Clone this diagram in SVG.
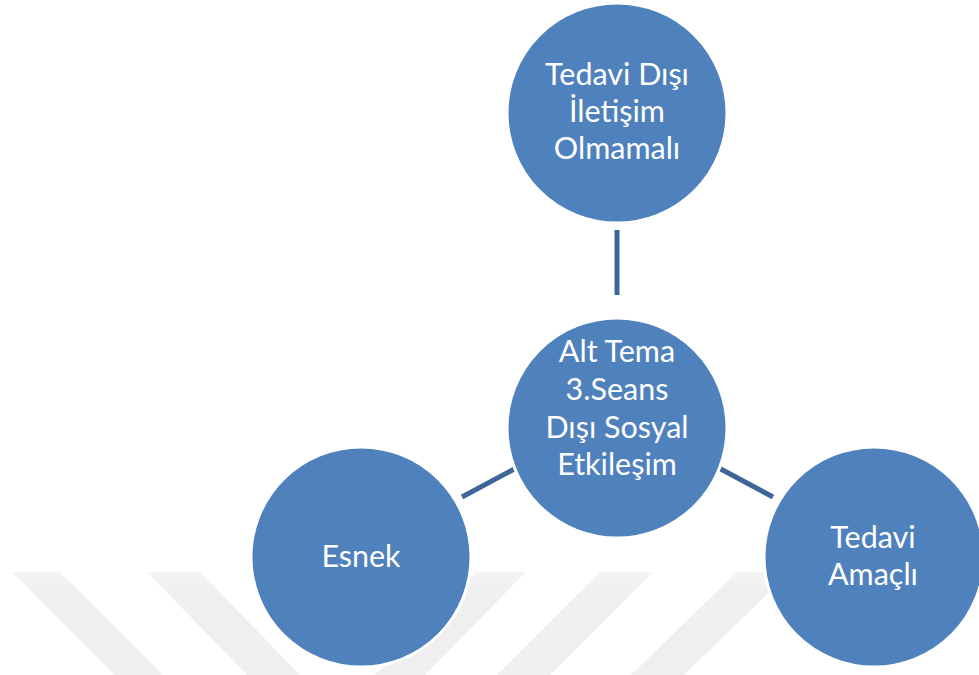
<svg xmlns="http://www.w3.org/2000/svg" width="979" height="675" viewBox="0 0 979 675">
  <defs>
    <linearGradient id="bandFade" x1="0" y1="572" x2="0" y2="675" gradientUnits="userSpaceOnUse">
      <stop offset="0" stop-color="#F3F3F3"/>
      <stop offset="0.25" stop-color="#EFEFEF"/>
      <stop offset="1" stop-color="#EFEFEF"/>
    </linearGradient>
  </defs>
  <style>
    .band { fill: url(#bandFade); }
    .node circle { fill: #4F81BD; stroke: #FFFFFF; stroke-width: 3; }
    .node text { fill: #FFFFFF; font-family: Lato, "Open Sans", "Liberation Sans", sans-serif; font-size: 30.5px; text-anchor: middle; }
    .link { stroke: #3E6597; stroke-width: 5; fill: none; }
  </style>
  <rect width="979" height="675" fill="#FFFFFF"/>

  <!-- faint diagonal background bands -->
  <g id="bands">
    <polygon class="band" points="12,572 60,572 163,675 115,675"/>
    <polygon class="band" points="147,572 200,572 300,675 247,675"/>
    <polygon class="band" points="476,572 526,572 425,675 375,675"/>
    <polygon class="band" points="600,572 653,572 550,675 497,675"/>
    <polygon class="band" points="737,572 790,572 684,675 631,675"/>
  </g>

  <g id="connectors">
    <line class="link" x1="617" y1="230" x2="617" y2="295"/>
    <line class="link" x1="518" y1="467" x2="462" y2="497"/>
    <line class="link" x1="717" y1="467" x2="773" y2="497"/>
  </g>

  <g id="node-top" class="node">
    <circle cx="617" cy="113" r="110"/>
    <text x="617" y="85">Tedavi Dışı</text>
    <text x="617" y="122">İletişim</text>
    <text x="617" y="159">Olmamalı</text>
  </g>

  <g id="node-center" class="node">
    <circle cx="617" cy="428" r="110"/>
    <text x="617" y="362">Alt Tema</text>
    <text x="617" y="400">3.Seans</text>
    <text x="617" y="438">Dışı Sosyal</text>
    <text x="617" y="475">Etkileşim</text>
  </g>

  <g id="node-left" class="node">
    <circle cx="361" cy="557" r="110"/>
    <text x="361" y="567">Esnek</text>
  </g>

  <g id="node-right" class="node">
    <circle cx="874" cy="557" r="110"/>
    <text x="873" y="548">Tedavi</text>
    <text x="873" y="585">Amaçlı</text>
  </g>
</svg>
